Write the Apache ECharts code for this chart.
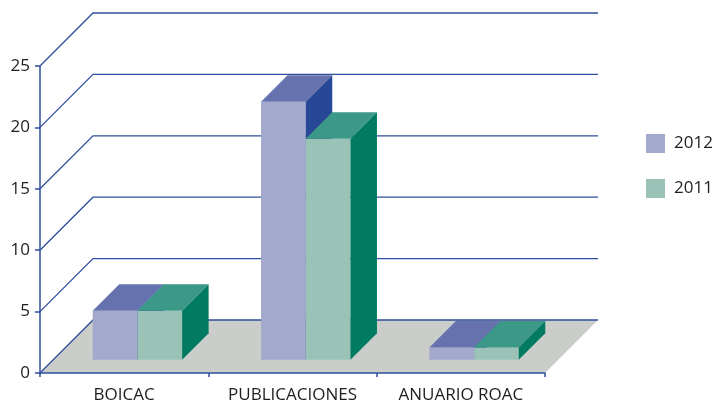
<!DOCTYPE html>
<html>
<head>
<meta charset="utf-8">
<script src="https://cdn.jsdelivr.net/npm/echarts@6/dist/echarts.min.js"></script>
<style>
html,body{margin:0;padding:0;background:#fff;}
#chart{width:716px;height:404px;}
</style>
</head>
<body>
<div id="chart"></div>
<script>
var categories = ['BOICAC', 'PUBLICACIONES', 'ANUARIO ROAC'];
var values2012 = [4, 21, 1];
var values2011 = [4, 18, 1];
var seriesNames = ['2012', '2011'];
var yTicks = [0, 5, 10, 15, 20, 25];

var DEPTH = 53;          // px oblique depth of the 3D box
var BAR_FRAC = 0.2655;   // bar width as fraction of category band
var AXIS_COLOR = '#2e4f9c';
var TEXT_COLOR = '#1e1e1e';
var FONT = '"Open Sans", "Noto Sans", sans-serif';

var colors = {
  '2012': {front: '#a3a9cd', top: '#6572ae', side: '#274896'},
  '2011': {front: '#9bc2b7', top: '#3c9988', side: '#007a61'}
};

function barRender(sideIdx, c) {
  return function (params, api) {
    var ci = api.value(0), v = api.value(1);
    var base = api.coord([ci, 0]);
    var top = api.coord([ci, v]);
    var bw = api.size([1, 0])[0];
    var w = bw * BAR_FRAC;
    var off = DEPTH * 0.25, d = DEPTH * 0.5;
    var x0 = base[0] + off + (sideIdx === 0 ? -w : 0);
    var x1 = x0 + w;
    var yb = base[1] - off, yt = top[1] - off;
    return {
      type: 'group',
      children: [
        {type: 'polygon', shape: {points: [[x0, yb], [x1, yb], [x1, yt], [x0, yt]]}, style: {fill: c.front}},
        {type: 'polygon', shape: {points: [[x0, yt], [x1, yt], [x1 + d, yt - d], [x0 + d, yt - d]]}, style: {fill: c.top}},
        {type: 'polygon', shape: {points: [[x1, yb], [x1, yt], [x1 + d, yt - d], [x1 + d, yb - d]]}, style: {fill: c.side}}
      ]
    };
  };
}

function edges(api, v) {
  var bw = api.size([1, 0])[0];
  var l = api.coord([0, v])[0] - bw / 2;
  var r = api.coord([categories.length - 1, v])[0] + bw / 2;
  return [l, r];
}

var chart = echarts.init(document.getElementById('chart'), null, {renderer: 'canvas'});
chart.setOption({
  animation: false,
  backgroundColor: '#ffffff',
  grid: {left: 40, right: 171, top: 66, bottom: 29, containLabel: false},
  legend: {
    orient: 'vertical',
    left: 646,
    top: 134,
    padding: 0,
    itemWidth: 19,
    itemHeight: 19,
    itemGap: 26,
    icon: 'rect',
    textStyle: {color: TEXT_COLOR, fontSize: 17, fontFamily: FONT, padding: [0, 0, 0, 4]},
    data: [
      {name: '2012', itemStyle: {color: colors['2012'].front}},
      {name: '2011', itemStyle: {color: colors['2011'].front}}
    ]
  },
  xAxis: {
    type: 'category',
    data: categories,
    axisLine: {lineStyle: {color: AXIS_COLOR, width: 1.5}},
    axisTick: {show: true, alignWithLabel: false, length: 4, lineStyle: {color: AXIS_COLOR, width: 1.5}},
    axisLabel: {color: TEXT_COLOR, fontSize: 17, fontFamily: FONT, margin: 14},
    splitLine: {show: false}
  },
  yAxis: {
    type: 'value',
    min: 0,
    max: 25,
    interval: 5,
    axisLine: {show: true, lineStyle: {color: AXIS_COLOR, width: 1.5}},
    axisTick: {show: true, length: 5, lineStyle: {color: AXIS_COLOR, width: 1.5}},
    axisLabel: {color: TEXT_COLOR, fontSize: 17, fontFamily: FONT, margin: 10},
    splitLine: {show: false}
  },
  series: [
    {
      type: 'custom',
      name: 'floor',
      z: -1,
      silent: true,
      data: [[0, 0]],
      renderItem: function (params, api) {
        var e = edges(api, 0);
        var y = api.coord([0, 0])[1];
        return {
          type: 'polygon',
          shape: {points: [[e[0], y], [e[1], y], [e[1] + DEPTH, y - DEPTH], [e[0] + DEPTH, y - DEPTH]]},
          style: {fill: '#cbcdca'}
        };
      }
    },
    {
      type: 'custom',
      name: 'grid',
      z: 1,
      silent: true,
      data: yTicks.map(function (t) { return [0, t]; }),
      renderItem: function (params, api) {
        var v = api.value(1);
        var e = edges(api, v);
        var y = api.coord([0, v])[1];
        return {
          type: 'polyline',
          shape: {points: [[e[0], y], [e[0] + DEPTH, y - DEPTH], [e[1] + DEPTH, y - DEPTH]]},
          style: {stroke: AXIS_COLOR, lineWidth: 1.3, fill: null}
        };
      }
    },
    {
      type: 'custom',
      name: '2012',
      z: 3,
      itemStyle: {color: colors['2012'].front},
      data: values2012.map(function (v, i) { return [i, v]; }),
      renderItem: barRender(0, colors['2012'])
    },
    {
      type: 'custom',
      name: '2011',
      z: 4,
      itemStyle: {color: colors['2011'].front},
      data: values2011.map(function (v, i) { return [i, v]; }),
      renderItem: barRender(1, colors['2011'])
    }
  ]
});
</script>
</body>
</html>
